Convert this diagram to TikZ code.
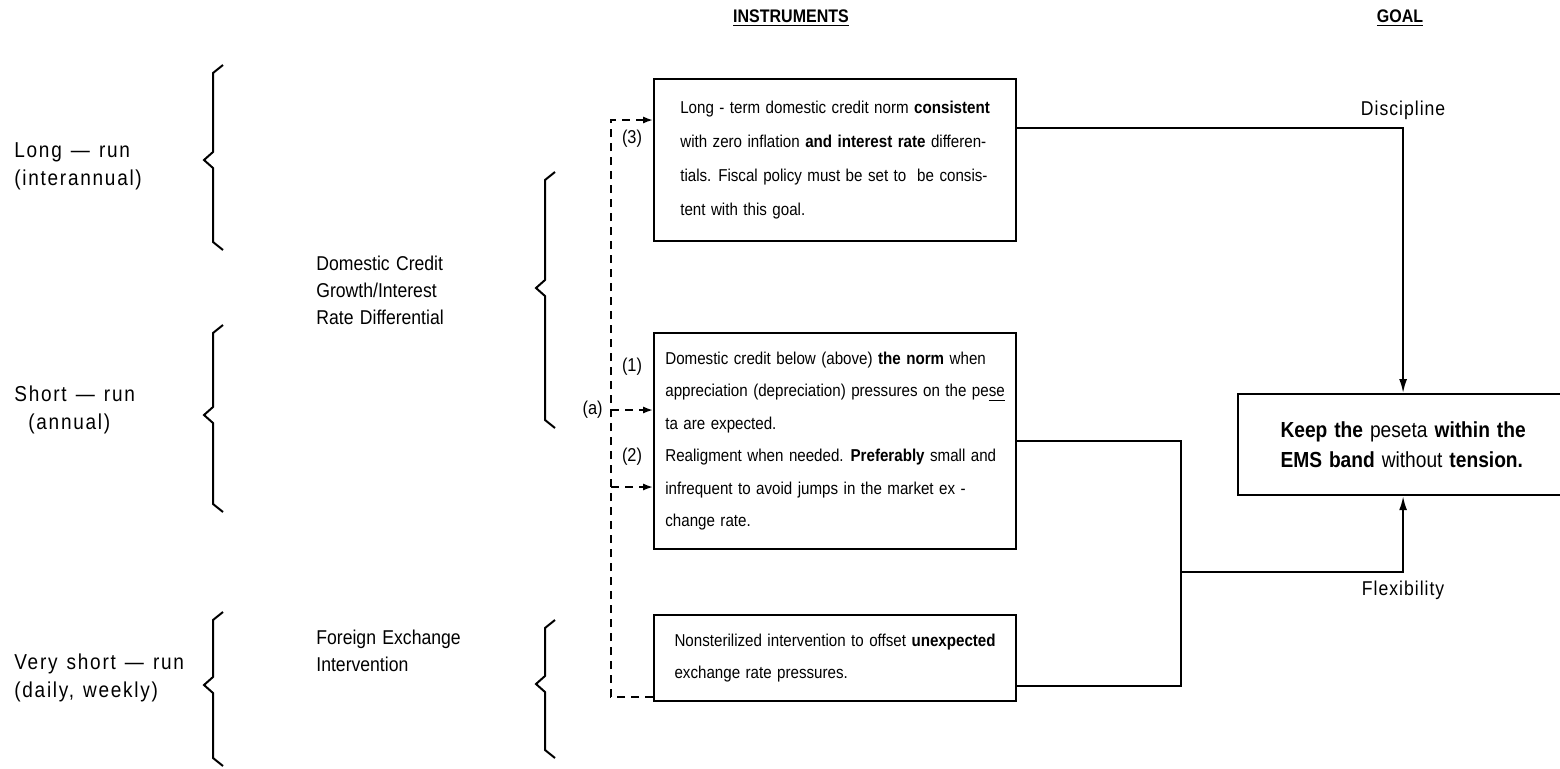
\documentclass[tikz,border=0pt]{standalone}
\usepackage{fontspec}
\setmainfont{Liberation Sans}[WordSpace=1.3,FakeStretch=0.88]
\usetikzlibrary{arrows.meta,positioning}

\begin{document}
\begin{tikzpicture}[x=0.5pt,y=-0.5pt,>={Latex[length=5pt,width=3.6pt]},
  box/.style={draw,line width=1.1pt,anchor=north west,minimum width=181pt,align=left,inner sep=0pt,font=\fontsize{8.6}{16.2}\selectfont},
  side/.style={anchor=west,align=left,inner sep=0pt,font=\fontsize{10.8}{14}\selectfont\addfontfeature{LetterSpace=8}},
  mid/.style={anchor=west,align=left,inner sep=0pt,font=\fontsize{10}{13.5}\selectfont},
  head/.style={font=\fontsize{9.1}{10}\selectfont\bfseries},
  tag/.style={font=\fontsize{9.3}{10}\selectfont,inner sep=1pt},
  lab/.style={font=\fontsize{10}{11}\selectfont\addfontfeature{LetterSpace=5},inner sep=1pt},
  line/.style={line width=0.9pt},
  dline/.style={line width=0.9pt,dash pattern=on 4pt off 3pt},
  brc/.style={line width=1pt}]
\useasboundingbox (0,0) rectangle (1560,768);
\node[head] (ins) at (791,18) {\underline{INSTRUMENTS}};
\node[head] (gl) at (1400,18) {\underline{GOAL}};
\node[side] (lr) at (14,166) {Long --- run\\(interannual)};
\node[side] (sr) at (14,410) {Short --- run\\\hspace*{7pt}(annual)};
\node[side] (vr) at (14,678) {Very short --- run\\(daily, weekly)};
\node[mid] (dc) at (316,290) {Domestic Credit\\Growth/Interest\\Rate Differential};
\node[mid] (fx) at (316,651) {Foreign Exchange\\Intervention};
\node[box,minimum height=81pt,font=\fontsize{8.6}{17}\selectfont] (b1) at (653,78) {Long - term domestic credit norm \textbf{consistent}\\with zero inflation \textbf{and interest rate} differen-\\tials. Fiscal policy must be set to\ \ be consis-\\tent with this goal.};
\node[box,minimum height=108pt] (b2) at (653,332) {Domestic credit below (above) \textbf{the norm} when\\appreciation (depreciation) pressures on the pe\underline{se}\\ta are expected.\\Realigment when needed. \textbf{Preferably} small and\\infrequent to avoid jumps in the market ex -\\change rate.};
\node[box,minimum height=43pt] (b3) at (653,614) {Nonsterilized intervention to offset \textbf{unexpected}\\exchange rate pressures.};
\node[box,minimum width=165pt,minimum height=50.5pt,font=\fontsize{10.9}{15}\selectfont\bfseries] (goal) at (1237,393) {Keep the {\mdseries peseta} within the\\EMS band {\mdseries without} tension.};
\node[tag] (t3) at (632,139) {(3)};
\node[tag] (t1) at (632,367) {(1)};
\node[tag] (t2) at (632,457) {(2)};
\coordinate (dt) at (611,120);
\coordinate (db) at (611,697);
\coordinate (d1) at (611,410);
\coordinate (d2) at (611,487);
\coordinate (fj) at (1181,572);
\node[tag,left=3pt of d1] (ta) {(a)};
\draw[dline,->] (b3.west |- db) -- (db) -- (dt) -- (b1.west |- dt);
\draw[dline,->] (d1) -- (b2.west |- d1);
\draw[dline,->] (d2) -- (b2.west |- d2);
\draw[line,-{Latex[length=7pt,width=4pt]}] ([yshift=16pt]b1.east) -| node[lab,above=3pt,pos=0.5] {Discipline} (goal.north);
\draw[line] (b2.east) -| (fj);
\draw[line] ([yshift=-14pt]b3.east) -| (fj);
\draw[line,-{Latex[length=7pt,width=4pt]}] (fj) -| node[lab,below=3pt,pos=0.5] {Flexibility} (goal.south);
\draw[brc] (223,65) -- (213,73) -- (213,152) -- (204,160) -- (213,168) -- (213,242) -- (223,250);
\draw[brc] (223,325) -- (213,333) -- (213,407) -- (204,415) -- (213,423) -- (213,504) -- (223,512);
\draw[brc] (223,612) -- (213,620) -- (213,677) -- (204,685) -- (213,693) -- (213,758) -- (223,766);
\draw[brc] (555,172) -- (545,180) -- (545,280) -- (536,288) -- (545,296) -- (545,420) -- (555,428);
\draw[brc] (555,620) -- (545,628) -- (545,676) -- (536,684) -- (545,692) -- (545,750) -- (555,758);
\end{tikzpicture}
\end{document}
